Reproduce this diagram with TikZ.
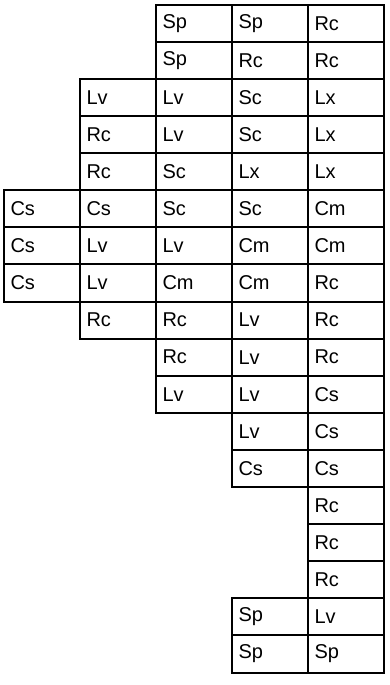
\documentclass[tikz,border=0pt]{standalone}
\usepackage{fontspec}
\setmainfont{Liberation Sans}
\usetikzlibrary{positioning}

\begin{document}
\begin{tikzpicture}[x=1pt,y=1pt,node distance=0pt,
    cell/.style={draw,line width=2pt,outer sep=0pt,inner xsep=7pt,
      text width=62pt,align=left,minimum height=37.1pt,
      font=\fontsize{20}{24}\selectfont}]
  \useasboundingbox (0,0) rectangle (390,-685);

  % right column
  \node[cell] (r0c4) at (345.5,-23.25) {Rc};
  \node[cell] (r1c4) [below=of r0c4] {Rc};
  \node[cell] (r2c4) [below=of r1c4] {Lx};
  \node[cell] (r3c4) [below=of r2c4] {Lx};
  \node[cell] (r4c4) [below=of r3c4] {Lx};
  \node[cell] (r5c4) [below=of r4c4] {Cm};
  \node[cell] (r6c4) [below=of r5c4] {Cm};
  \node[cell] (r7c4) [below=of r6c4] {Rc};
  \node[cell] (r8c4) [below=of r7c4] {Rc};
  \node[cell] (r9c4) [below=of r8c4] {Rc};
  \node[cell] (r10c4) [below=of r9c4] {Cs};
  \node[cell] (r11c4) [below=of r10c4] {Cs};
  \node[cell] (r12c4) [below=of r11c4] {Cs};
  \node[cell] (r13c4) [below=of r12c4] {Rc};
  \node[cell] (r14c4) [below=of r13c4] {Rc};
  \node[cell] (r15c4) [below=of r14c4] {Rc};
  \node[cell] (r16c4) [below=of r15c4] {Lv};
  \node[cell] (r17c4) [below=of r16c4] {Sp};

  % rows 0-4
  \node[cell] (r0c3) [left=of r0c4] {Sp};
  \node[cell] (r0c2) [left=of r0c3] {Sp};
  \node[cell] (r1c3) [left=of r1c4] {Rc};
  \node[cell] (r1c2) [left=of r1c3] {Sp};
  \node[cell] (r2c3) [left=of r2c4] {Sc};
  \node[cell] (r2c2) [left=of r2c3] {Lv};
  \node[cell] (r2c1) [left=of r2c2] {Lv};
  \node[cell] (r3c3) [left=of r3c4] {Sc};
  \node[cell] (r3c2) [left=of r3c3] {Lv};
  \node[cell] (r3c1) [left=of r3c2] {Rc};
  \node[cell] (r4c3) [left=of r4c4] {Lx};
  \node[cell] (r4c2) [left=of r4c3] {Sc};
  \node[cell] (r4c1) [left=of r4c2] {Rc};

  % rows 5-7
  \node[cell] (r5c3) [left=of r5c4] {Sc};
  \node[cell] (r5c2) [left=of r5c3] {Sc};
  \node[cell] (r5c1) [left=of r5c2] {Cs};
  \node[cell] (r5c0) [left=of r5c1] {Cs};
  \node[cell] (r6c3) [left=of r6c4] {Cm};
  \node[cell] (r6c2) [left=of r6c3] {Lv};
  \node[cell] (r6c1) [left=of r6c2] {Lv};
  \node[cell] (r6c0) [left=of r6c1] {Cs};
  \node[cell] (r7c3) [left=of r7c4] {Cm};
  \node[cell] (r7c2) [left=of r7c3] {Cm};
  \node[cell] (r7c1) [left=of r7c2] {Lv};
  \node[cell] (r7c0) [left=of r7c1] {Cs};

  % rows 8-12
  \node[cell] (r8c3) [left=of r8c4] {Lv};
  \node[cell] (r8c2) [left=of r8c3] {Rc};
  \node[cell] (r8c1) [left=of r8c2] {Rc};
  \node[cell] (r9c3) [left=of r9c4] {Lv};
  \node[cell] (r9c2) [left=of r9c3] {Rc};
  \node[cell] (r10c3) [left=of r10c4] {Lv};
  \node[cell] (r10c2) [left=of r10c3] {Lv};
  \node[cell] (r11c3) [left=of r11c4] {Lv};
  \node[cell] (r12c3) [left=of r12c4] {Cs};

  % rows 16-17
  \node[cell] (r16c3) [left=of r16c4] {Sp};
  \node[cell] (r17c3) [left=of r17c4] {Sp};
\end{tikzpicture}
\end{document}
